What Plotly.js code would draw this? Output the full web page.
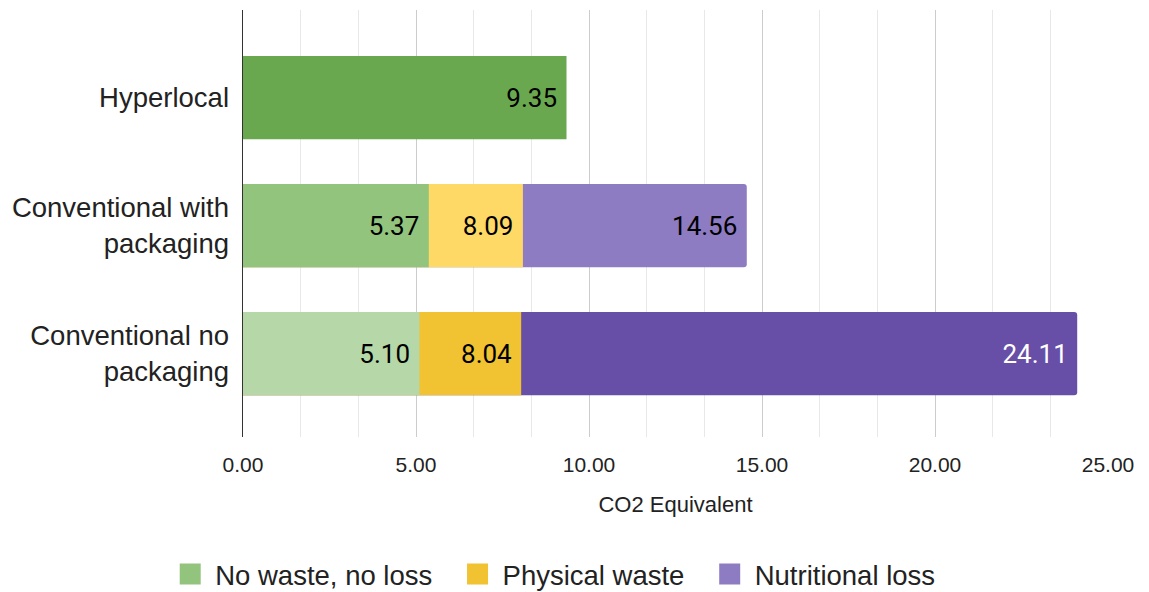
<!DOCTYPE html>
<html>
<head>
<meta charset="utf-8">
<script src="https://cdn.plot.ly/plotly-3.0.1.min.js"></script>
<style>html,body{margin:0;padding:0;background:#fff;}#chart{width:1149px;height:592px;}</style>
</head>
<body>
<div id="chart"></div>
<script>
// ---- data ----
var categories = ["Hyperlocal", "Conventional with packaging", "Conventional no packaging"];
var categoryLabels = ["Hyperlocal", "Conventional with<br>packaging", "Conventional no<br>packaging"];
var seriesNames = ["No waste, no loss", "Physical waste", "Nutritional loss"];
var noWasteNoLoss = [9.35, 5.37, 5.10];
var physicalWaste = [null, 8.09, 8.04];
var nutritionalLoss = [null, 14.56, 24.11];
var xTickValues = [0, 5, 10, 15, 20, 25];

// ---- styles ----
var greenColors = ["#6aa84f", "#93c47d", "#b6d7a8"];
var yellowColors = ["#ffd966", "#ffd966", "#f1c232"];
var purpleColors = ["#8e7cc3", "#8e7cc3", "#674ea7"];
var legendColors = ["#93c47d", "#f1c232", "#8e7cc3"];
var labelFont = "Roboto, sans-serif";
var axisFont = "'Liberation Sans', Arial, sans-serif";

function barTrace(name, values, colors, textColors, radius) {
  return {
    type: "bar", orientation: "h", name: name,
    y: categories, x: values,
    marker: {color: colors, line: {width: 0}, cornerradius: radius || 0},
    texttemplate: "%{x:.2f}\u00a0",
    textposition: "inside", insidetextanchor: "end", textangle: 0,
    insidetextfont: {family: labelFont, size: 26, color: textColors},
    constraintext: "none",
    width: 0.65, showlegend: false, hoverinfo: "skip", cliponaxis: false
  };
}
function legendTrace(name, color) {
  return {
    type: "scatter", mode: "markers", name: name + "\u00a0\u00a0",
    x: [null], y: [null],
    marker: {symbol: "square", size: 16, color: color, line: {width: 7, color: color}},
    showlegend: true, hoverinfo: "skip"
  };
}

var data = [
  barTrace(seriesNames[2], nutritionalLoss, purpleColors, ["#000", "#000", "#fff"], 3),
  barTrace(seriesNames[1], physicalWaste, yellowColors, ["#000", "#000", "#000"]),
  barTrace(seriesNames[0], noWasteNoLoss, greenColors, ["#000", "#000", "#000"]),
  legendTrace(seriesNames[0], legendColors[0]),
  legendTrace(seriesNames[1], legendColors[1]),
  legendTrace(seriesNames[2], legendColors[2])
];

var layout = {
  width: 1149, height: 592,
  margin: {l: 243, r: 41, t: 10, b: 155, pad: 0},
  paper_bgcolor: "#fff", plot_bgcolor: "#fff",
  barmode: "overlay",
  font: {family: axisFont, color: "#222"},
  xaxis: {
    type: "linear", range: [0, 25], fixedrange: true,
    tickmode: "array", tickvals: xTickValues, tickformat: ".2f",
    showgrid: true, gridcolor: "#cccccc", gridwidth: 1,
    minor: {tickmode: "linear", tick0: 0, dtick: 5 / 3, showgrid: true, gridcolor: "#e8e8e8", gridwidth: 1},
    zeroline: false, showline: false,
    ticks: "outside", ticklen: 9, tickcolor: "rgba(0,0,0,0)",
    tickfont: {family: axisFont, size: 21, color: "#222"},
    title: {text: "CO2 Equivalent", font: {family: axisFont, size: 22, color: "#222"}, standoff: 21},
    automargin: false
  },
  yaxis: {
    type: "category", categoryorder: "array", categoryarray: categories,
    range: [2.652, -0.684], fixedrange: true,
    tickmode: "array", tickvals: categories, ticktext: categoryLabels,
    showgrid: false, zeroline: false,
    showline: true, linecolor: "#333", linewidth: 1.5,
    ticks: "outside", ticklen: 7, tickcolor: "rgba(0,0,0,0)",
    tickfont: {family: axisFont, size: 27.5, color: "#222"},
    automargin: false
  },
  showlegend: true,
  legend: {
    orientation: "h", x: 0.488, xref: "container", xanchor: "center",
    y: 0.03, yref: "container", yanchor: "middle",
    font: {family: axisFont, size: 27.5, color: "#222"},
    itemsizing: "trace", itemwidth: 40, traceorder: "normal", bgcolor: "rgba(0,0,0,0)"
  }
};

Plotly.newPlot("chart", data, layout, {displayModeBar: false, staticPlot: true});
</script>
</body>
</html>
